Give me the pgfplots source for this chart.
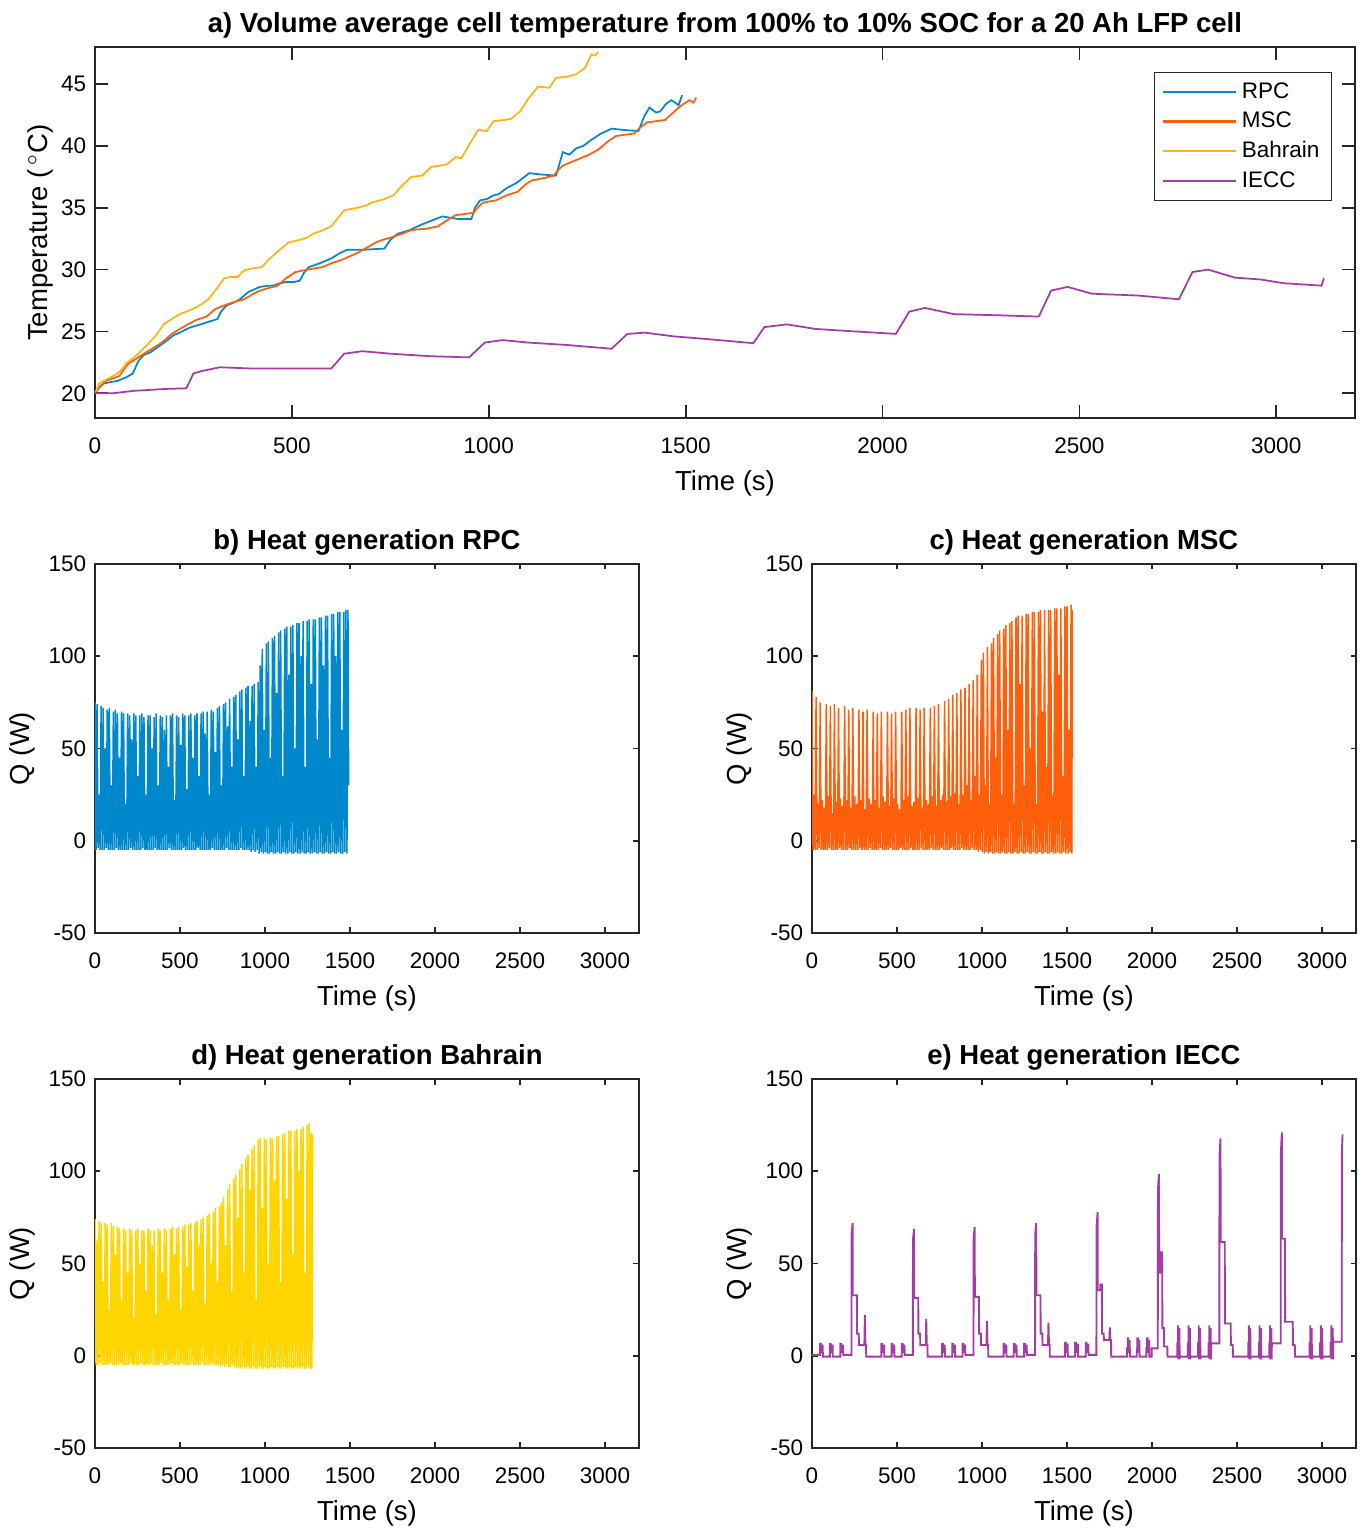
\documentclass[border=0pt]{standalone}
\usepackage{fontspec}
\setmainfont{Liberation Sans}
\usepackage{pgfplots}
\pgfplotsset{compat=1.18}

\definecolor{rpc}{HTML}{0088CC}
\definecolor{msc}{HTML}{FF5F0A}
\definecolor{bah}{HTML}{FFB414}
\definecolor{bahq}{HTML}{FFD500}
\definecolor{iecc}{HTML}{A43CA6}
\definecolor{axgray}{HTML}{262626}

\pgfplotsset{
  matlab/.style={
    scale only axis,
    axis line style={axgray, line width=0.7pt},
    tick style={axgray, line width=0.7pt},
    tick align=inside,
    xmin=0, xmax=3200,
    xtick={0,500,1000,1500,2000,2500,3000},
    /pgf/number format/assume math mode=true,
    /pgf/number format/1000 sep={},
    tick label style={font=\fontsize{9}{10}\selectfont},
    xticklabel style={yshift=-4.4pt},
    label style={font=\fontsize{11}{12}\selectfont},
    title style={font=\fontsize{11}{12}\selectfont\bfseries, yshift=-6pt},
    xlabel={Time (s)},
  },
  heat/.style={matlab, width=217.6pt, height=147.6pt,
    ymin=-50, ymax=150, ytick={-50,0,50,100,150},
    ylabel={Q (W)}, ylabel style={xshift=0pt, yshift=-1.6pt},
    major tick length=2.2pt},
}

\begin{document}
\begin{tikzpicture}
\path[use as bounding box] (0pt,0pt) rectangle (546pt,611.2pt);

% a) temperature
\begin{axis}[matlab, at={(38pt,444pt)}, anchor=south west,
  width=504pt, height=148.4pt,
  ymin=18, ymax=48, ytick={20,25,30,35,40,45},
  major tick length=5.2pt,
  ylabel={Temperature (\,$^{\circ}$C)}, ylabel style={yshift=-3.6pt},
  title={a) Volume average cell temperature from 100\% to 10\% SOC for a 20 Ah LFP cell},
  legend style={at={(0.982,0.933)}, anchor=north east, draw=axgray,
    font=\fontsize{9}{10.4}\selectfont, inner xsep=3pt, inner ysep=2pt,
    cells={anchor=west}},
  legend image code/.code={\draw[#1, line width=0.9pt] (4.5pt,0pt) -- (33.5pt,0pt);},
]
\addplot[rpc, line width=0.7pt] coordinates {
(0,20.0)(10,20.5)(23,20.8)(40,20.9)(57,21.0)(80,21.3)(96,21.6)(110,22.6)(124,23.1)(140,23.3)(158,23.7)(180,24.2)(200,24.7)(215,24.9)(240,25.3)(271,25.6)(290,25.8)(311,26.0)(320,26.6)(334,27.1)(350,27.3)(368,27.6)(390,28.2)(419,28.6)(440,28.7)(452,28.7)(470,28.9)(486,29.0)(505,29.0)(520,29.1)(530,29.7)(543,30.2)(570,30.5)(600,30.9)(620,31.3)(640,31.6)(680,31.6)(735,31.7)(750,32.4)(769,32.9)(800,33.2)(826,33.6)(850,33.9)(882,34.3)(920,34.1)(956,34.1)(965,35.0)(978,35.6)(995,35.7)(1012,36.0)(1025,36.1)(1046,36.6)(1070,37.0)(1103,37.8)(1130,37.7)(1171,37.6)(1180,38.6)(1188,39.5)(1205,39.3)(1222,39.8)(1240,40.0)(1261,40.5)(1285,41.0)(1312,41.4)(1340,41.3)(1380,41.2)(1395,42.4)(1408,43.1)(1425,42.7)(1436,42.8)(1450,43.4)(1464,43.7)(1482,43.3)(1491,44.1)
};
\addlegendentry{RPC}
\addplot[msc, line width=0.7pt] coordinates {
(0,20.0)(15,20.6)(28,21.0)(45,21.2)(62,21.4)(75,22.0)(85,22.4)(105,22.8)(124,23.2)(145,23.6)(170,24.1)(195,24.8)(226,25.4)(255,25.9)(283,26.2)(305,26.8)(328,27.1)(355,27.4)(379,27.6)(400,28.0)(419,28.3)(440,28.5)(464,28.7)(485,29.3)(509,29.8)(540,30.0)(577,30.2)(600,30.5)(628,30.8)(670,31.4)(713,32.2)(730,32.4)(752,32.6)(780,32.9)(803,33.2)(840,33.3)(871,33.5)(895,34.0)(916,34.4)(940,34.5)(961,34.6)(972,35.0)(984,35.4)(1000,35.5)(1018,35.6)(1045,36.0)(1074,36.3)(1090,36.8)(1108,37.2)(1140,37.4)(1165,37.6)(1175,38.0)(1188,38.4)(1210,38.7)(1233,39.0)(1255,39.3)(1278,39.7)(1300,40.3)(1323,40.8)(1345,40.9)(1369,41.0)(1385,41.5)(1402,41.9)(1425,42.0)(1448,42.1)(1465,42.6)(1482,43.1)(1495,43.4)(1510,43.7)(1520,43.5)(1527,43.9)
};
\addlegendentry{MSC}
\addplot[bah, line width=0.7pt] coordinates {
(0,20.0)(11,20.8)(34,21.2)(57,21.6)(70,22.0)(79,22.4)(95,22.8)(113,23.3)(135,24.0)(158,24.8)(175,25.6)(195,26.0)(215,26.4)(240,26.7)(260,27.0)(275,27.3)(288,27.6)(310,28.5)(328,29.3)(345,29.4)(362,29.4)(379,29.95)(400,30.1)(424,30.2)(441,30.8)(465,31.5)(492,32.2)(520,32.4)(540,32.6)(554,32.9)(580,33.2)(600,33.5)(615,34.1)(633,34.8)(667,35.0)(690,35.2)(701,35.4)(735,35.7)(758,36.0)(780,36.8)(803,37.5)(831,37.6)(854,38.3)(893,38.5)(916,39.1)(930,39.0)(945,39.8)(956,40.4)(973,41.3)(995,41.2)(1012,42.0)(1040,42.1)(1057,42.2)(1080,42.8)(1100,43.8)(1125,44.8)(1154,44.7)(1171,45.5)(1200,45.6)(1222,45.8)(1244,46.3)(1261,47.4)(1270,47.3)(1278,47.6)
};
\addlegendentry{Bahrain}
\addplot[iecc, line width=0.7pt] coordinates {
(0,20.0)(45,20.0)(100,20.2)(180,20.35)(232,20.4)(250,21.6)(271,21.8)(317,22.1)(400,22.0)(500,22.0)(600,22.0)(633,23.2)(679,23.4)(750,23.2)(850,23.0)(950,22.9)(990,24.1)(1035,24.3)(1100,24.1)(1200,23.9)(1312,23.6)(1352,24.8)(1397,24.9)(1470,24.6)(1548,24.4)(1672,24.05)(1700,25.35)(1757,25.57)(1830,25.2)(1930,25.0)(2034,24.8)(2068,26.6)(2108,26.9)(2181,26.4)(2300,26.3)(2397,26.2)(2428,28.3)(2470,28.6)(2532,28.05)(2650,27.9)(2753,27.6)(2787,29.8)(2827,30.0)(2895,29.35)(2960,29.2)(3019,28.9)(3115,28.7)(3121,29.3)
};
\addlegendentry{IECC}
\end{axis}

% b) RPC
\begin{axis}[heat, at={(38pt,238pt)}, anchor=south west,
  title={b) Heat generation RPC}]
\addplot[rpc, line width=0.6pt] coordinates {
(0,-5)(0,75)(6,-5)(12,74)(18,-4)(24,25)(30,-5)(36,73)(42,-5)(48,72)(54,-5)(60,50)(66,-4)(72,71)(78,-5)(84,72)(90,-5)(96,30)(102,-5)(108,70)(114,-5)(120,71)(126,-4)(132,69)(138,-5)(144,45)(150,-5)(156,70)(162,-5)(168,69)(174,-5)(180,20)(186,-5)(192,69)(198,-5)(204,68)(210,-4)(216,55)(222,-5)(228,69)(234,-5)(240,68)(246,-5)(252,35)(258,-5)(264,68)(270,-5)(276,69)(282,-4)(288,67)(294,-5)(300,25)(306,-5)(312,68)(318,-5)(324,68)(330,-5)(336,50)(342,-5)(348,67)(354,-4)(360,69)(366,-5)(372,30)(378,-5)(384,68)(390,-5)(396,67)(402,-5)(408,60)(414,-5)(420,68)(426,-5)(432,40)(438,-4)(444,68)(450,-5)(456,69)(462,-5)(468,22)(474,-5)(480,68)(486,-5)(492,67)(498,-5)(504,52)(510,-5)(516,69)(522,-4)(528,68)(534,-5)(540,28)(546,-5)(552,68)(558,-5)(564,69)(570,-5)(576,45)(582,-5)(588,68)(594,-5)(600,69)(606,-4)(612,35)(618,-5)(624,69)(630,-5)(636,70)(642,-5)(648,58)(654,-5)(660,70)(666,-5)(672,25)(678,-5)(684,71)(690,-4)(696,70)(702,-5)(708,48)(714,-5)(720,72)(726,-5)(732,73)(738,-5)(744,30)(750,-5)(756,74)(762,-5)(768,75)(774,-4)(780,62)(786,-5)(792,77)(798,-5)(804,40)(810,-5)(816,78)(822,-5)(828,79)(834,-5)(840,55)(846,-5)(852,81)(858,-4)(864,82)(870,-5)(876,35)(882,-5)(888,83)(894,-5)(900,84)(906,-5)(912,65)(918,-6)(924,84)(930,-5)(936,85)(942,-6)(948,40)(954,-5)(960,86)(966,-7)(972,95)(978,-6)(984,104)(990,-7)(996,60)(1002,-6)(1008,107)(1014,-7)(1020,108)(1026,-7)(1032,45)(1038,-6)(1044,110)(1050,-7)(1056,111)(1062,-7)(1068,80)(1074,-6)(1080,113)(1086,-7)(1092,114)(1098,-7)(1104,35)(1110,-6)(1116,115)(1122,-7)(1128,116)(1134,-7)(1140,90)(1146,-6)(1152,116)(1158,-7)(1164,117)(1170,-7)(1176,50)(1182,-6)(1188,118)(1194,-7)(1200,118)(1206,-7)(1212,100)(1218,-6)(1224,119)(1230,-7)(1236,40)(1242,-7)(1248,119)(1254,-6)(1260,120)(1266,-7)(1272,85)(1278,-7)(1284,120)(1290,-6)(1296,120)(1302,-7)(1308,55)(1314,-7)(1320,121)(1326,-6)(1332,121)(1338,-7)(1344,95)(1350,-7)(1356,122)(1362,-6)(1368,122)(1374,-7)(1380,45)(1386,-7)(1392,123)(1398,-6)(1404,123)(1410,-7)(1416,100)(1422,-7)(1428,124)(1434,-6)(1440,124)(1446,-7)(1452,60)(1458,-7)(1464,124)(1470,-6)(1476,125)(1482,-7)(1488,125)(1492,30)
};
\end{axis}

% c) MSC
\begin{axis}[heat, at={(324.8pt,238pt)}, anchor=south west,
  title={c) Heat generation MSC}]
\addplot[msc, line width=0.6pt] coordinates {
(0,25)(0,81)(6,-5)(12,25)(18,-5)(24,78)(30,-5)(36,20)(42,-4)(48,75)(54,-5)(60,22)(66,-5)(72,18)(78,-5)(84,74)(90,-5)(96,24)(102,-4)(108,73)(114,-5)(120,15)(126,-5)(132,74)(138,-5)(144,21)(150,-5)(156,72)(162,-4)(168,23)(174,-5)(180,19)(186,-5)(192,73)(198,-5)(204,22)(210,-5)(216,71)(222,-4)(228,18)(234,-5)(240,72)(246,-5)(252,24)(258,-5)(264,20)(270,-5)(276,71)(282,-4)(288,22)(294,-5)(300,70)(306,-5)(312,17)(318,-5)(324,71)(330,-5)(336,23)(342,-4)(348,20)(354,-5)(360,70)(366,-5)(372,22)(378,-5)(384,69)(390,-5)(396,18)(402,-4)(408,70)(414,-5)(420,24)(426,-5)(432,21)(438,-5)(444,70)(450,-5)(456,19)(462,-4)(468,69)(474,-5)(480,23)(486,-5)(492,70)(498,-5)(504,20)(510,-5)(516,17)(522,-4)(528,70)(534,-5)(540,22)(546,-5)(552,71)(558,-5)(564,24)(570,-5)(576,72)(582,-4)(588,19)(594,-5)(600,21)(606,-5)(612,72)(618,-5)(624,23)(630,-5)(636,71)(642,-4)(648,18)(654,-5)(660,72)(666,-5)(672,22)(678,-5)(684,20)(690,-5)(696,72)(702,-4)(708,24)(714,-5)(720,73)(726,-5)(732,19)(738,-5)(744,74)(750,-5)(756,22)(762,-4)(768,25)(774,-5)(780,76)(786,-5)(792,21)(798,-5)(804,77)(810,-5)(816,24)(822,-4)(828,79)(834,-5)(840,26)(846,-5)(852,80)(858,-5)(864,20)(870,-5)(876,82)(882,-4)(888,25)(894,-5)(900,83)(906,-5)(912,30)(918,-5)(924,85)(930,-5)(936,22)(942,-4)(948,87)(954,-5)(960,35)(966,-5)(972,90)(978,-6)(984,25)(990,-5)(996,98)(1002,-6)(1008,102)(1014,-7)(1020,30)(1026,-6)(1032,105)(1038,-7)(1044,20)(1050,-6)(1056,107)(1062,-7)(1068,110)(1074,-7)(1080,45)(1086,-6)(1092,112)(1098,-7)(1104,114)(1110,-7)(1116,25)(1122,-6)(1128,115)(1134,-7)(1140,117)(1146,-7)(1152,60)(1158,-6)(1164,118)(1170,-7)(1176,119)(1182,-7)(1188,20)(1194,-6)(1200,121)(1206,-7)(1212,122)(1218,-7)(1224,85)(1230,-6)(1236,122)(1242,-7)(1248,30)(1254,-7)(1260,123)(1266,-6)(1272,123)(1278,-7)(1284,50)(1290,-7)(1296,124)(1302,-6)(1308,124)(1314,-7)(1320,20)(1326,-7)(1332,124)(1338,-6)(1344,125)(1350,-7)(1356,70)(1362,-7)(1368,125)(1374,-6)(1380,40)(1386,-7)(1392,125)(1398,-7)(1404,125)(1410,-6)(1416,25)(1422,-7)(1428,126)(1434,-7)(1440,126)(1446,-6)(1452,90)(1458,-7)(1464,126)(1470,-7)(1476,35)(1482,-6)(1488,127)(1494,-7)(1500,127)(1506,-7)(1512,60)(1518,-6)(1524,128)(1529,-7)(1530,125)
};
\end{axis}

% d) Bahrain
\begin{axis}[heat, at={(38pt,32pt)}, anchor=south west,
  title={d) Heat generation Bahrain}]
\addplot[bahq, line width=0.6pt] coordinates {
(0,63)(0,74)(6,-5)(12,63)(18,-5)(24,73)(30,-4)(36,72)(42,-5)(48,40)(54,-5)(60,72)(66,-5)(72,71)(78,-5)(84,25)(90,-4)(96,72)(102,-5)(108,70)(114,-5)(120,55)(126,-5)(132,70)(138,-5)(144,69)(150,-4)(156,30)(162,-5)(168,69)(174,-5)(180,68)(186,-5)(192,45)(198,-5)(204,69)(210,-4)(216,68)(222,-5)(228,20)(234,-5)(240,68)(246,-5)(252,69)(258,-5)(264,50)(270,-4)(276,68)(282,-5)(288,68)(294,-5)(300,35)(306,-5)(312,69)(318,-5)(324,68)(330,-4)(336,60)(342,-5)(348,68)(354,-5)(360,22)(366,-5)(372,69)(378,-5)(384,68)(390,-4)(396,45)(402,-5)(408,69)(414,-5)(420,68)(426,-5)(432,30)(438,-5)(444,69)(450,-4)(456,70)(462,-5)(468,55)(474,-5)(480,69)(486,-5)(492,70)(498,-5)(504,25)(510,-4)(516,70)(522,-5)(528,71)(534,-5)(540,48)(546,-5)(552,71)(558,-5)(564,72)(570,-4)(576,35)(582,-5)(588,72)(594,-5)(600,73)(606,-5)(612,60)(618,-5)(624,74)(630,-4)(636,75)(642,-5)(648,28)(654,-5)(660,76)(666,-5)(672,77)(678,-5)(684,50)(690,-4)(696,78)(702,-5)(708,80)(714,-5)(720,40)(726,-5)(732,81)(738,-6)(744,83)(750,-5)(756,86)(762,-6)(768,60)(774,-5)(780,90)(786,-6)(792,93)(798,-6)(804,35)(810,-5)(816,96)(822,-6)(828,98)(834,-7)(840,75)(846,-6)(852,101)(858,-7)(864,104)(870,-6)(876,45)(882,-7)(888,107)(894,-6)(900,109)(906,-7)(912,90)(918,-7)(924,112)(930,-6)(936,114)(942,-7)(948,30)(954,-7)(960,117)(966,-6)(972,118)(978,-7)(984,80)(990,-7)(996,118)(1002,-6)(1008,117)(1014,-7)(1020,50)(1026,-7)(1032,118)(1038,-6)(1044,118)(1050,-7)(1056,95)(1062,-7)(1068,119)(1074,-6)(1080,119)(1086,-7)(1092,40)(1098,-7)(1104,120)(1110,-6)(1116,121)(1122,-7)(1128,85)(1134,-7)(1140,122)(1146,-6)(1152,122)(1158,-7)(1164,55)(1170,-7)(1176,122)(1182,-6)(1188,123)(1194,-7)(1200,100)(1206,-7)(1212,123)(1218,-6)(1224,124)(1230,-7)(1236,45)(1242,-7)(1248,125)(1254,-6)(1260,126)(1266,-7)(1272,121)(1276,-7)(1280,120)
};
\end{axis}

% e) IECC
\begin{axis}[heat, at={(324.8pt,32pt)}, anchor=south west,
  title={e) Heat generation IECC}]
\addplot[iecc, line width=0.75pt] coordinates {
(0,0.5)(47,0.5)(47,6.5)(52,6.5)(53,2)(59,2)(59,5.5)(63,5.5)(64,-0.5)
(105,-0.5)(105,6.5)(110,6.5)(111,2)(117,2)(117,5.5)(121,5.5)(122,-0.5)
(167,-0.5)(167,6.5)(172,6.5)(173,2)(179,2)(179,5.5)(183,5.5)(184,0.5)
(232,0.5)(233,66)(239,72)(240,32.8)(264,32.8)(265,12)(275,12)(276,5.8)(308,5.8)(311,22)(314,5.8)(318,5.8)(319,-0.5)
(408,-0.5)(408,6.5)(413,6.5)(414,2)(420,2)(420,5.5)(424,5.5)(425,-0.5)
(468,-0.5)(468,6.5)(473,6.5)(474,2)(480,2)(480,5.5)(484,5.5)(485,-0.5)
(528,-0.5)(528,6.5)(533,6.5)(534,2)(540,2)(540,5.5)(544,5.5)(545,0.5)
(593,0.5)(594,63)(600,68.8)(601,31.4)(625,31.4)(626,12)(636,12)(637,5.8)(669,5.8)(672,20)(675,5.8)(679,5.8)(680,-0.5)
(765,-0.5)(765,6.5)(770,6.5)(771,2)(777,2)(777,5.5)(781,5.5)(782,-0.5)
(825,-0.5)(825,6.5)(830,6.5)(831,2)(837,2)(837,5.5)(841,5.5)(842,-0.5)
(885,-0.5)(885,6.5)(890,6.5)(891,2)(897,2)(897,5.5)(901,5.5)(902,0.5)
(950,0.5)(951,64)(957,69.7)(958,31.9)(982,31.9)(983,12)(993,12)(994,5.8)(1026,5.8)(1029,18.7)(1032,5.8)(1036,5.8)(1037,-0.5)
(1127,-0.5)(1127,6.5)(1132,6.5)(1133,2)(1139,2)(1139,5.5)(1143,5.5)(1144,-0.5)
(1187,-0.5)(1187,6.5)(1192,6.5)(1193,2)(1199,2)(1199,5.5)(1203,5.5)(1204,-0.5)
(1247,-0.5)(1247,6.5)(1252,6.5)(1253,2)(1259,2)(1259,5.5)(1263,5.5)(1264,0.5)
(1312,0.5)(1313,66)(1319,72)(1320,32.8)(1344,32.8)(1345,12)(1355,12)(1356,5.8)(1388,5.8)(1391,18)(1394,5.8)(1398,5.8)(1399,-0.5)
(1488,-0.5)(1488,7)(1493,7)(1494,2)(1500,2)(1500,6)(1504,6)(1505,-0.5)
(1548,-0.5)(1548,7)(1553,7)(1554,2)(1560,2)(1560,6)(1564,6)(1565,-0.5)
(1610,-0.5)(1610,7)(1615,7)(1616,2)(1622,2)(1622,6)(1626,6)(1627,0.5)
(1673,0.5)(1674,70)(1680,77.8)(1681,35.5)(1695,35.5)(1696,38.6)(1705,38.6)(1706,12)(1716,12)(1717,8.5)(1749,8.5)(1752,15.3)(1755,8.5)(1759,8.5)(1760,-0.5)
(1853,-0.5)(1853,4)(1857,4)(1857,9.5)(1860,9.5)(1861,2)(1866,2)(1866,8)(1869,8)(1870,-0.5)
(1910,-0.5)(1910,4)(1914,4)(1914,9.5)(1917,9.5)(1918,2)(1923,2)(1923,8)(1926,8)(1927,-0.5)
(1967,-0.5)(1967,4)(1971,4)(1971,9.5)(1974,9.5)(1975,2)(1980,2)(1980,8)(1983,8)(1984,-0.5)
(1998,-0.5)(1998,4)(2034,4)(2035,90)(2041,98.6)(2042,45)(2050,45)(2051,56)(2060,56)(2061,15)(2070,15)(2071,5)(2090,5)(2091,-0.5)
(2149,-0.5)(2149,6.7)(2153,6.7)(2153,16.5)(2155,-2)(2157,6.7)(2161,6.7)(2161,15)(2163,-2)(2164,-0.5)
(2211,-0.5)(2211,6.7)(2215,6.7)(2215,16.5)(2217,-2)(2219,6.7)(2223,6.7)(2223,15)(2225,-2)(2226,-0.5)
(2271,-0.5)(2271,6.7)(2275,6.7)(2275,16.5)(2277,-2)(2279,6.7)(2283,6.7)(2283,15)(2285,-2)(2286,-0.5)
(2333,-0.5)(2333,6.7)(2337,6.7)(2337,16.5)(2339,-2)(2341,6.7)(2345,6.7)(2345,15)(2347,-2)(2348,6.7)
(2396,6.7)(2397,108)(2403,117.8)(2404,61.6)(2428,61.6)(2429,17.5)(2463,17.5)(2464,5.8)(2475,5.8)(2476,-0.5)
(2566,-0.5)(2566,6.7)(2570,6.7)(2570,16.5)(2572,-2)(2574,6.7)(2578,6.7)(2578,15)(2580,-2)(2581,-0.5)
(2628,-0.5)(2628,6.7)(2632,6.7)(2632,16.5)(2634,-2)(2636,6.7)(2640,6.7)(2640,15)(2642,-2)(2643,-0.5)
(2690,-0.5)(2690,6.7)(2694,6.7)(2694,16.5)(2696,-2)(2698,6.7)(2702,6.7)(2702,15)(2704,-2)(2705,6.7)
(2757,6.7)(2758,110)(2764,121)(2765,63.4)(2782,63.4)(2783,18.4)(2828,18.4)(2829,5.8)(2840,5.8)(2841,-0.5)
(2927,-0.5)(2927,6.7)(2931,6.7)(2931,16.5)(2933,-2)(2935,6.7)(2939,6.7)(2939,15)(2941,-2)(2942,-0.5)
(2989,-0.5)(2989,6.7)(2993,6.7)(2993,16.5)(2995,-2)(2997,6.7)(3001,6.7)(3001,15)(3003,-2)(3004,-0.5)
(3051,-0.5)(3051,6.7)(3055,6.7)(3055,16.5)(3057,-2)(3059,6.7)(3063,6.7)(3063,15)(3065,-2)(3066,7.6)
(3116,7.6)(3117,110)(3121,120)
};
\end{axis}
\end{tikzpicture}
\end{document}
